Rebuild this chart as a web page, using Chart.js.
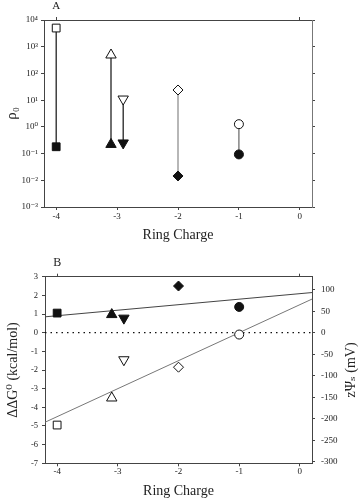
<!DOCTYPE html>
<html>
<head>
<meta charset="utf-8">
<script src="https://cdn.jsdelivr.net/npm/chart.js@4.4.0/dist/chart.umd.min.js"></script>
<style>
body { margin: 0; background: #fff; }
#wrapA { position: absolute; left: 0; top: 0; width: 361px; height: 244px; }
#wrapB { position: absolute; left: 0; top: 244px; width: 361px; height: 256px; }
</style>
</head>
<body>
<div id="wrapA"><canvas id="chartA" width="361" height="244"></canvas></div>
<div id="wrapB"><canvas id="chartB" width="361" height="256"></canvas></div>
<script>
// ring charge of each channel variant
var charges = [-4, -3.1, -2.9, -2, -1];
// panel A: rho0, open (low salt) and filled (high salt)
var rhoOpen = [5000, 490, 11, 24, 1.26];
var rhoFilled = [0.18, 0.22, 0.25, 0.0145, 0.093];
// panel B: ddG0 (kcal/mol)
var dgFilled = [1.05, 0.97, 0.78, 2.5, 1.38];
var dgOpen = [-4.95, -3.5, -1.45, -1.85, -0.1];
// fit lines (end points)
var fitX = [-4.2, 0.2];
var fitFilled = [0.85, 2.15];
var fitOpen = [-4.8, 1.8];
var zeroLine = [0, 0];
// ticks
var chargeTicks = [-4, -3, -2, -1, 0];
var rhoTicks = [1e-3, 1e-2, 1e-1, 1, 10, 100, 1000, 10000];
var dgTicks = [-7, -6, -5, -4, -3, -2, -1, 0, 1, 2, 3];
var mvTicks = [-300, -250, -200, -150, -100, -50, 0, 50, 100];
var mvPerKcal = 43.4;

var shapes = ['rect', 'triangle', 'triangle', 'rectRot', 'circle'];
var rotations = [0, 0, 180, 0, 0];
var sizes = [5.5, 6, 6, 5, 4.5];
var pairColors = ['#111', '#111', '#111', '#888', '#666'];

Chart.defaults.font.family = "'Liberation Serif', 'DejaVu Serif', serif";
Chart.defaults.color = '#222';
Chart.defaults.animation = false;

var axisColor = '#444';

function pts(xs, ys) {
    return xs.map(function (x, i) { return { x: x, y: ys[i] }; });
}
function setTicks(list) {
    return function (s) { s.ticks = list.map(function (v) { return { value: v }; }); };
}
function size(n) {
    return function (s) { if (s.isHorizontal()) s.height = n; else s.width = n; };
}
var sup = { '-': '\u207B', '0': '\u2070', '1': '\u00B9', '2': '\u00B2', '3': '\u00B3', '4': '\u2074' };
function powLabel(v) {
    var e = String(Math.round(Math.log10(v)));
    return '10' + e.split('').map(function (c) { return sup[c]; }).join('');
}
function grid(len) {
    return { drawOnChartArea: false, tickLength: len, color: axisColor };
}

function markers(data, fill) {
    return {
        data: data,
        pointStyle: shapes,
        pointRotation: rotations,
        pointRadius: sizes,
        backgroundColor: fill,
        borderColor: '#111',
        borderWidth: 1,
        showLine: false,
        order: 0
    };
}

// right axis title in the reference reads bottom to top
var rightTitle = {
    id: 'rightTitle',
    afterDraw: function (chart) {
        var s = chart.scales.yRight;
        var ctx = chart.ctx;
        ctx.save();
        ctx.translate(s.right - 10, (s.top + s.bottom) / 2);
        ctx.rotate(-Math.PI / 2);
        ctx.font = "14px 'Liberation Serif', 'DejaVu Serif', serif";
        ctx.fillStyle = '#222';
        ctx.textAlign = 'center';
        ctx.textBaseline = 'middle';
        ctx.fillText('z\u03A8\u209B (mV)', 0, 0);
        ctx.restore();
    }
};

// ---------- panel A ----------
var dsA = charges.map(function (c, i) {
    return {
        data: pts([c, c], [rhoOpen[i], rhoFilled[i]]),
        showLine: true,
        borderColor: pairColors[i],
        borderWidth: 1.2,
        pointRadius: 0,
        order: 2
    };
});
dsA.push(markers(pts(charges, rhoOpen), '#fff'));
dsA.push(markers(pts(charges, rhoFilled), '#111'));

new Chart(document.getElementById('chartA'), {
    type: 'scatter',
    data: { datasets: dsA },
    options: {
        responsive: false,
        events: [],
        layout: { padding: 0 },
        plugins: { legend: { display: false }, tooltip: { enabled: false } },
        scales: {
            x: {
                type: 'linear', position: 'bottom', min: -4.2, max: 0.2,
                afterBuildTicks: setTicks(chargeTicks), afterFit: size(37),
                ticks: { font: { size: 9 }, padding: 1, maxRotation: 0, autoSkip: false },
                grid: grid(3), border: { color: axisColor },
                title: { display: true, text: 'Ring Charge', font: { size: 14 }, padding: { top: 2, bottom: 0 } }
            },
            xTop: {
                type: 'linear', position: 'top', min: -4.2, max: 0.2,
                afterBuildTicks: setTicks([-4, 0]), afterFit: size(20),
                ticks: { font: { size: 11 }, padding: 4, maxRotation: 0, autoSkip: false,
                    callback: function (v) { return v === -4 ? 'A' : ''; } },
                grid: grid(3), border: { color: axisColor }
            },
            y: {
                type: 'logarithmic', position: 'left', min: 1e-3, max: 1e4,
                afterBuildTicks: setTicks(rhoTicks), afterFit: size(44),
                ticks: { font: { size: 9 }, padding: 3, autoSkip: false, callback: powLabel },
                grid: grid(3), border: { color: axisColor },
                title: { display: true, text: '\u03C1\u2080', font: { size: 15 }, padding: { top: 3, bottom: 0 } }
            },
            yRight: {
                type: 'logarithmic', position: 'right', min: 1e-3, max: 1e4,
                afterBuildTicks: setTicks(rhoTicks), afterFit: size(49),
                ticks: { display: false },
                grid: grid(3), border: { color: '#777' }
            }
        }
    }
});

// ---------- panel B ----------
var dsB = [
    { data: pts(fitX, fitFilled), showLine: true, borderColor: '#444', borderWidth: 1, pointRadius: 0, order: 2 },
    { data: pts(fitX, fitOpen), showLine: true, borderColor: '#777', borderWidth: 1, pointRadius: 0, order: 2 },
    { data: pts(fitX, zeroLine), showLine: true, borderColor: '#111', borderWidth: 1.2, borderDash: [1.5, 4], pointRadius: 0, order: 2 },
    markers(pts(charges, dgFilled), '#111'),
    markers(pts(charges, dgOpen), '#fff')
];

new Chart(document.getElementById('chartB'), {
    type: 'scatter',
    data: { datasets: dsB },
    plugins: [rightTitle],
    options: {
        responsive: false,
        events: [],
        layout: { padding: 0 },
        plugins: { legend: { display: false }, tooltip: { enabled: false } },
        scales: {
            x: {
                type: 'linear', position: 'bottom', min: -4.2, max: 0.2,
                afterBuildTicks: setTicks(chargeTicks), afterFit: size(36.7),
                ticks: { font: { size: 9 }, padding: 0, maxRotation: 0, autoSkip: false },
                grid: grid(3), border: { color: axisColor },
                title: { display: true, text: 'Ring Charge', font: { size: 14 }, padding: { top: 0, bottom: 0 } }
            },
            xTop: {
                type: 'linear', position: 'top', min: -4.2, max: 0.2,
                afterBuildTicks: setTicks([-4, 0]), afterFit: size(32.7),
                ticks: { font: { size: 12 }, padding: 4, maxRotation: 0, autoSkip: false,
                    callback: function (v) { return v === -4 ? 'B' : ''; } },
                grid: grid(3), border: { color: axisColor }
            },
            y: {
                type: 'linear', position: 'left', min: -7, max: 3,
                afterBuildTicks: setTicks(dgTicks), afterFit: size(45),
                ticks: { font: { size: 8.5 }, padding: 4, autoSkip: false },
                grid: grid(3), border: { color: axisColor },
                title: { display: true, text: '\u0394\u0394G\u2070 (kcal/mol)', font: { size: 14 }, padding: { top: 4.6, bottom: 0 } }
            },
            yRight: {
                type: 'linear', position: 'right', min: -7 * mvPerKcal, max: 3 * mvPerKcal,
                afterBuildTicks: setTicks(mvTicks), afterFit: size(49),
                ticks: { font: { size: 9 }, padding: 6, autoSkip: false },
                grid: grid(3), border: { color: axisColor }
            }
        }
    }
});
</script>
</body>
</html>
